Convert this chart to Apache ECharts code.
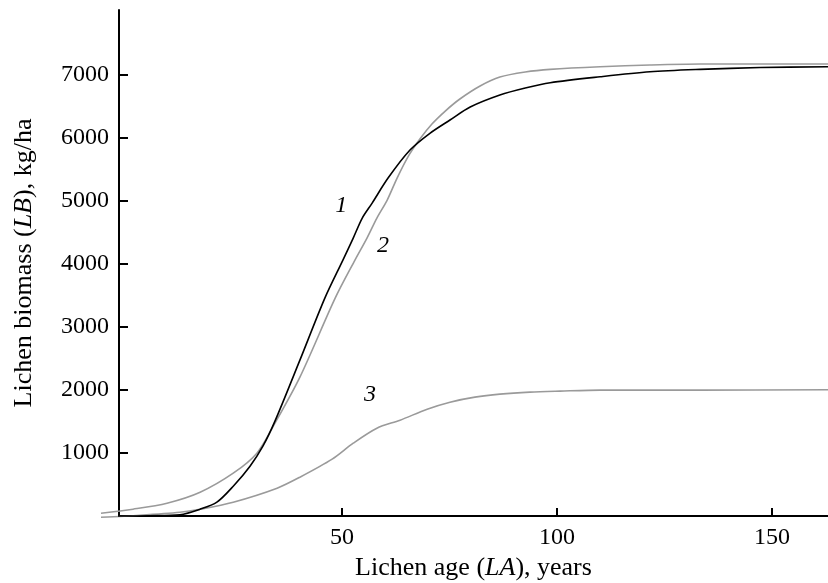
<!DOCTYPE html>
<html>
<head>
<meta charset="utf-8">
<script src="https://cdn.jsdelivr.net/npm/echarts@6/dist/echarts.min.js"></script>
<style>
html,body{margin:0;padding:0;background:#fff;}
#chart{width:828px;height:583px;}
</style>
</head>
<body>
<div id="chart"></div>
<script>
// Curve 1 (black): [age, biomass]
const curve1 = [
  [-2.1,0],[5.3,5],[12.3,21],[17.0,108],[20.9,219],[24.7,472],[28.6,790],[31.6,1107],
  [34.4,1503],[40.2,2470],[46.0,3453],[50.2,4056],[52.6,4405],[54.7,4722],[57.0,4960],
  [60.7,5356],[65.8,5800],[70.5,6069],[75.1,6276],[79.8,6482],[86.7,6672],[92.6,6783],
  [98.4,6867],[110,6962],[121.6,7041],[133.3,7079],[147.2,7108],[163,7121]
];
// Curve 2 (grey)
const curve2 = [
  [-6.05,44],[1.4,108],[9.3,203],[17.0,377],[24.7,679],[30.2,996],[34.4,1471],[40.2,2201],
  [48.4,3453],[53.0,4056],[55.8,4405],[58.1,4722],[60.5,5007],[62.8,5356],[65.3,5689],
  [68.1,5974],[70.9,6212],[74.0,6418],[77.4,6609],[82.1,6815],[86.7,6957],[92.6,7037],[98.4,7079],
  [110,7121],[121.6,7148],[133.3,7163],[163,7163]
];
// Curve 3 (grey)
const curve3 = [
  [-6.05,-19],[3.0,13],[12.3,60],[17.0,108],[24.7,219],[34.9,441],[40.2,615],[47.7,901],
  [52.6,1154],[58.1,1392],[63.5,1519],[69.8,1693],[75.1,1804],[80.9,1884],[86.7,1931],
  [93.7,1963],[100.7,1979],[110,1995],[133.3,1995],[163,2000]
];
const curveLabels = ['1','2','3'];
const curveLabelAnchors = [[49.8,4912],[59.5,4278],[56.5,1915]];
const xTicks = [50,100,150];
const yTicks = [1000,2000,3000,4000,5000,6000,7000];

const FONT = 'Liberation Serif';
const chart = echarts.init(document.getElementById('chart'), null, {renderer:'canvas'});
const nameStyle = {color:'#000',fontFamily:FONT,fontSize:26,
  rich:{i:{fontStyle:'italic',fontFamily:FONT,fontSize:26,color:'#000'}}};
const tickStyle = {color:'#000',width:2};
const lineCommon = {type:'line',xAxisIndex:1,yAxisIndex:1,showSymbol:false,symbol:'none',clip:false,smooth:0.3};
chart.setOption({
  animation:false,
  backgroundColor:'#fff',
  grid:[
    {left:119,right:0,top:10,bottom:67,containLabel:false,outerBoundsMode:'none'},   // visible axes
    {left:101,right:0,top:10,bottom:61,containLabel:false,outerBoundsMode:'none'}    // same scale, wider extent for curves
  ],
  xAxis:[
    {type:'value',gridIndex:0,min:-1.86,max:163,
     axisLine:{show:true,onZero:false,lineStyle:tickStyle},splitLine:{show:false},
     axisTick:{show:true,inside:true,length:8,lineStyle:tickStyle,customValues:xTicks},
     axisLabel:{show:true,margin:10,color:'#000',fontFamily:FONT,fontSize:24,customValues:xTicks,
       formatter:v=>String(v)},
     name:'Lichen age ({i|LA}), years',nameLocation:'middle',nameGap:36,nameTextStyle:nameStyle},
    {type:'value',gridIndex:1,min:-6.05,max:163,show:false}
  ],
  yAxis:[
    {type:'value',gridIndex:0,min:0,max:8020,
     axisLine:{show:true,onZero:false,lineStyle:tickStyle},splitLine:{show:false},
     axisTick:{show:true,inside:true,length:9,lineStyle:tickStyle,customValues:yTicks},
     axisLabel:{show:true,margin:10,color:'#000',fontFamily:FONT,fontSize:24,customValues:yTicks,
       formatter:v=>String(v)},
     name:'Lichen biomass ({i|LB}), kg/ha',nameLocation:'middle',nameGap:82,nameTextStyle:nameStyle},
    {type:'value',gridIndex:1,min:-95.1,max:8020,show:false}
  ],
  series:[
    {...lineCommon,data:curve2,lineStyle:{color:'#9a9a9a',width:1.6},z:2},
    {...lineCommon,data:curve3,lineStyle:{color:'#9a9a9a',width:1.6},z:2},
    {...lineCommon,data:curve1,lineStyle:{color:'#000',width:1.6},z:3},
    {type:'scatter',xAxisIndex:0,yAxisIndex:0,symbolSize:0,silent:true,z:5,
     data:curveLabelAnchors.map((c,i)=>({value:c,name:curveLabels[i]})),
     label:{show:true,position:'inside',formatter:p=>p.name,color:'#000',opacity:1,
       fontFamily:FONT,fontStyle:'italic',fontSize:24}}
  ]
});
</script>
</body>
</html>
